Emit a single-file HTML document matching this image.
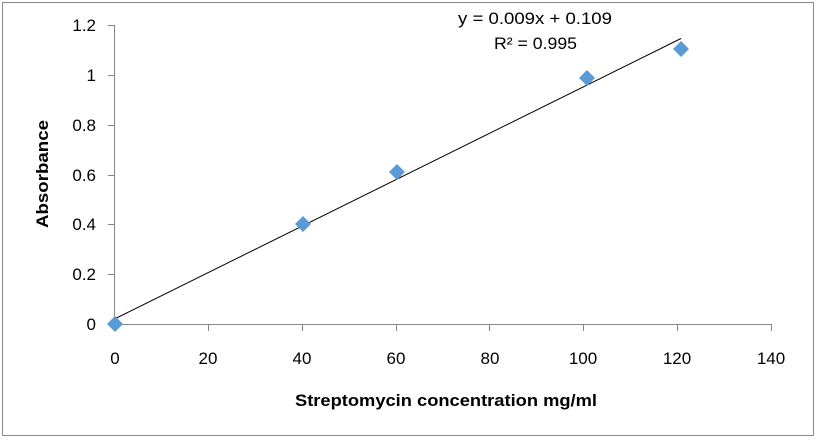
<!DOCTYPE html><html><head><style>body{margin:0;background:#fff}</style></head><body>
<svg width="817" height="439" xmlns="http://www.w3.org/2000/svg" font-family="Liberation Sans, sans-serif">
<rect x="2.5" y="2.5" width="811" height="433" fill="#fff" stroke="#868686"/>
<g stroke="#868686" stroke-width="1">
<line x1="114.5" y1="25" x2="114.5" y2="324"/>
<line x1="114.5" y1="324.5" x2="771" y2="324.5"/>
<line x1="108" y1="25.5" x2="114.5" y2="25.5"/><line x1="108" y1="75.5" x2="114.5" y2="75.5"/><line x1="108" y1="125.5" x2="114.5" y2="125.5"/><line x1="108" y1="175.5" x2="114.5" y2="175.5"/><line x1="108" y1="224.5" x2="114.5" y2="224.5"/><line x1="108" y1="274.5" x2="114.5" y2="274.5"/><line x1="108" y1="324.5" x2="114.5" y2="324.5"/>
<line x1="208.5" y1="324" x2="208.5" y2="331"/><line x1="302.5" y1="324" x2="302.5" y2="331"/><line x1="396.5" y1="324" x2="396.5" y2="331"/><line x1="489.5" y1="324" x2="489.5" y2="331"/><line x1="583.5" y1="324" x2="583.5" y2="331"/><line x1="677.5" y1="324" x2="677.5" y2="331"/><line x1="771.5" y1="324" x2="771.5" y2="331"/>
</g>
<g font-size="17" fill="#000" text-anchor="end">
<text x="96" y="31">1.2</text><text x="96" y="81">1</text><text x="96" y="131">0.8</text><text x="96" y="181">0.6</text><text x="96" y="230">0.4</text><text x="96" y="280">0.2</text><text x="96" y="330">0</text>
</g>
<g font-size="17" fill="#000" text-anchor="middle">
<text x="115" y="364">0</text><text x="208" y="364">20</text><text x="302" y="364">40</text><text x="396" y="364">60</text><text x="490" y="364">80</text><text x="583" y="364">100</text><text x="677" y="364">120</text><text x="771" y="364">140</text>
</g>
<text x="295" y="406" font-size="17" font-weight="bold" textLength="302" lengthAdjust="spacingAndGlyphs">Streptomycin concentration mg/ml</text>
<text transform="translate(48,228) rotate(-90)" font-size="17" font-weight="bold" textLength="108" lengthAdjust="spacingAndGlyphs">Absorbance</text>
<line x1="114.5" y1="319" x2="681" y2="38.5" stroke="#000" stroke-width="1"/>
<g fill="#5b9bd5">
<path d="M115 316 l8 8 l-8 8 l-8 -8z"/>
<path d="M303 216 l8 8 l-8 8 l-8 -8z"/>
<path d="M397 164 l8 8 l-8 8 l-8 -8z"/>
<path d="M587 70 l8 8 l-8 8 l-8 -8z"/>
<path d="M681 41 l8 8 l-8 8 l-8 -8z"/>
</g>
<text x="458" y="24" font-size="17" textLength="154" lengthAdjust="spacingAndGlyphs">y = 0.009x + 0.109</text>
<text x="494" y="49" font-size="17" textLength="83" lengthAdjust="spacingAndGlyphs">R² = 0.995</text>
</svg></body></html>
